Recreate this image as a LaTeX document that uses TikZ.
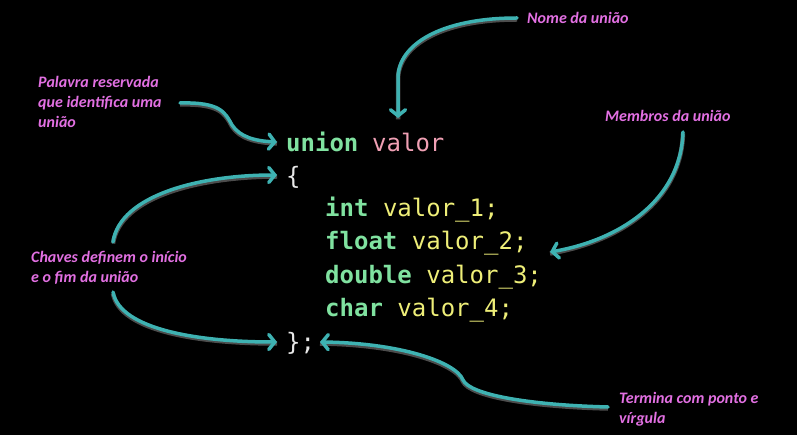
\documentclass[tikz,border=0pt]{standalone}
\usepackage{fontspec}
\setmonofont{DejaVu Sans Mono}
\newfontfamily\notefont{Carlito}
\usetikzlibrary{arrows.meta}
\definecolor{kw}{RGB}{128,226,160}
\definecolor{nm}{RGB}{240,160,180}
\definecolor{vr}{RGB}{238,238,120}
\definecolor{br}{RGB}{232,232,232}
\definecolor{notepink}{RGB}{226,112,226}
\definecolor{arrteal}{RGB}{62,178,178}
\begin{document}
\begin{tikzpicture}[x=1pt,y=-1pt,
  code/.style={anchor=west,inner sep=0pt,font=\fontsize{24}{28}\ttfamily},
  note/.style={anchor=north west,inner sep=0pt,align=left,text=notepink,font=\fontsize{16}{20}\notefont\bfseries\itshape},
  arr/.style={draw=arrteal,line width=3.5pt,line cap=round,
    preaction={draw=black!70!white,line width=4.5pt,transform canvas={yshift=-1.5pt},-},
    -{Straight Barb[length=6pt,width=15pt,line cap=round]}}]
\fill[black] (0,0) rectangle (797,435);
% code
\node[code,text=kw] (kunion) at (286,142) {\bfseries union};
\node[code,text=nm] (vname) at (372,142) {valor};
\node[code,text=br] (lbrace) at (286,177) {\{};
\node[code] (m1) at (325,210) {\textcolor{kw}{\bfseries int} \textcolor{vr}{valor\_1;}};
\node[code] (m2) at (325,243) {\textcolor{kw}{\bfseries float} \textcolor{vr}{valor\_2;}};
\node[code] (m3) at (325,277) {\textcolor{kw}{\bfseries double} \textcolor{vr}{valor\_3;}};
\node[code] (m4) at (325,310) {\textcolor{kw}{\bfseries char} \textcolor{vr}{valor\_4;}};
\node[code,text=br] (rbrace) at (286,343) {\};};
% notes
\node[note,anchor=west] (nome) at (527,18) {Nome da união};
\node[note] (palavra) at (38,76) {Palavra reservada\\que identifica uma\\união};
\node[note,anchor=west] (membros) at (605,116) {Membros da união};
\node[note] (chaves) at (31,251) {Chaves definem o início\\e o fim da união};
\node[note] (termina) at (619,392) {Termina com ponto e\\vírgula};
% arrow end points
\coordinate (s1) at (517,18);   \coordinate (e1) at (398,118);
\coordinate (s2) at (180,103);  \coordinate (e2) at (277,142);
\coordinate (s3) at (113,242);  \coordinate (e3) at (277,175);
\coordinate (s4) at (113,292);  \coordinate (e4) at (277,342);
\coordinate (s5) at (683,132);  \coordinate (e5) at (550,252);
\coordinate (s6) at (608,407);  \coordinate (e6) at (320,342);
% arrows
\draw[arr] (s1) .. controls (440,18) and (398,45) .. (398,78) -- (e1);
\draw[arr] (s2) .. controls (220,102) and (225,112) .. (232,125) .. controls (240,137) and (255,141) .. (e2);
\draw[arr] (s3) .. controls (120,195) and (200,175) .. (e3);
\draw[arr] (s4) .. controls (120,330) and (200,342) .. (e4);
\draw[arr] (s5) .. controls (681,200) and (620,240) .. (e5);
\draw[arr] (s6) .. controls (530,405) and (470,395) .. (463,380) .. controls (456,362) and (400,343) .. (e6);
\end{tikzpicture}
\end{document}
